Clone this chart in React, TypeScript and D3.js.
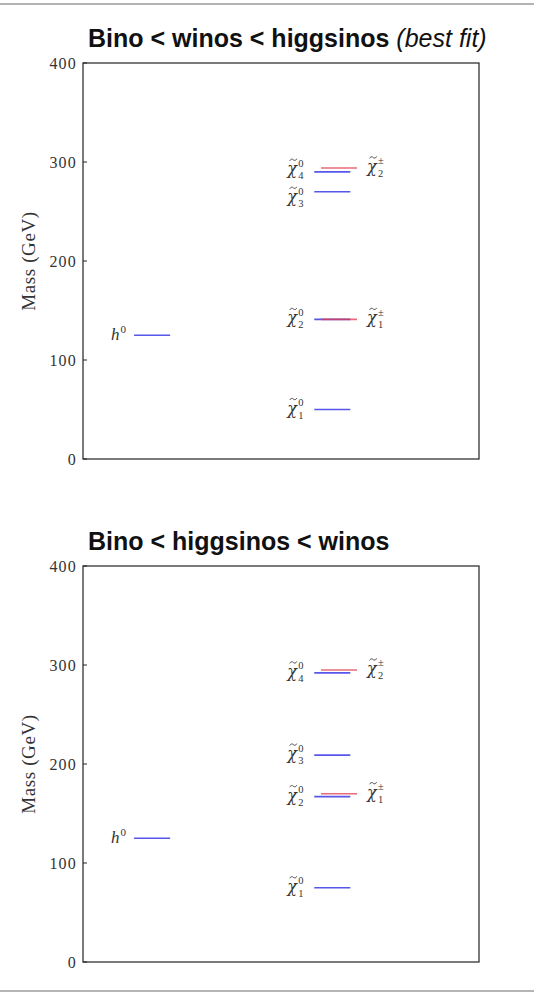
import React from "react";
import * as d3 from "d3";

// Mass spectra for two benchmark orderings (GeV)
const panelTitles = ["Bino < winos < higgsinos", "Bino < higgsinos < winos"];
const panelSubtitles = ["(best fit)", ""];
const higgsMasses = [125, 125];
const neutralinoMasses = [
  [50, 141, 270, 290],
  [75, 167, 209, 292],
];
const charginoMasses = [
  [141, 294],
  [170, 295],
];
const massTicks = [0, 100, 200, 300, 400];
const yLabel = "Mass (GeV)";

const W = 534;
const H = 997;
const BLUE = "#3a3ae8";
const RED = "#e23a4a";
const SERIF = "'Liberation Serif', 'DejaVu Serif', serif";
const SANS = "'Liberation Sans', Arial, sans-serif";
const INK = "#333";

// horizontal layout in fractions of the plot width
const columns = {
  higgs: [0.129, 0.22],
  neutralino: [0.584, 0.675],
  chargino: [0.601, 0.692],
};

function spreadLabels(ys: number[], minGap: number): number[] {
  const order = ys.map((_, i) => i).sort((a, b) => ys[a] - ys[b]);
  const out = ys.slice();
  for (let iter = 0; iter < 20; iter++) {
    for (let k = 1; k < order.length; k++) {
      const a = order[k - 1];
      const b = order[k];
      const gap = out[b] - out[a];
      if (gap < minGap) {
        const push = (minGap - gap) / 2;
        out[a] -= push * 0.4;
        out[b] += push * 1.6;
      }
    }
  }
  return out;
}

// χ̃ with stacked superscript and subscript; x is the right edge (end) or left edge (start)
function ChiLabel({ x, y, sup, sub, anchor }: { x: number; y: number; sup: string; sub: string; anchor: "start" | "end" }) {
  const w = 17;
  const x0 = anchor === "end" ? x - w : x;
  const tx = x0 + 2.5;
  const ty = y - 10.5;
  return (
    <g fill={INK}>
      <path
        d={`M${tx},${ty + 1} C${tx + 1.5},${ty - 1.5} ${tx + 3},${ty - 0.5} ${tx + 3.5},${ty} S${tx + 6},${ty + 1.5} ${tx + 7},${ty - 1}`}
        fill="none"
        stroke={INK}
        strokeWidth={0.9}
      />
      <text x={x0} y={y + 4} fontSize={16} fontStyle="italic" fontFamily="'DejaVu Serif', serif">χ</text>
      <text x={x0 + 11} y={y - 3.5} fontSize={10.5} fontFamily={SERIF}>{sup}</text>
      <text x={x0 + 11} y={y + 9} fontSize={10.5} fontFamily={SERIF}>{sub}</text>
    </g>
  );
}

function Panel({ idx, top }: { idx: number; top: number }) {
  const left = 83;
  const width = 396;
  const height = 396;
  const y = d3.scaleLinear().domain([0, 400]).range([top + height, top]);
  const x = d3.scaleLinear().domain([0, 1]).range([left, left + width]);

  const neu = neutralinoMasses[idx];
  const cha = charginoMasses[idx];
  const neuLabelY = spreadLabels(neu.map((m) => y(m)), 28);
  const chaLabelY = spreadLabels(cha.map((m) => y(m)), 28);

  return (
    <g>
      <text x={88} y={top - 16} fontFamily={SANS} fontSize={25} fill="#111">
        <tspan fontWeight="bold">{panelTitles[idx]}</tspan>
        {panelSubtitles[idx] && <tspan fontStyle="italic">{" " + panelSubtitles[idx]}</tspan>}
      </text>
      <rect x={left} y={top} width={width} height={height} fill="none" stroke="#222" strokeWidth={1.2} />
      {massTicks.map((t) => (
        <g key={t}>
          <line x1={left} x2={left + 4} y1={y(t)} y2={y(t)} stroke="#222" strokeWidth={1} />
          <text x={left - 6} y={y(t) + 5.5} textAnchor="end" fontFamily={SERIF} fontSize={16} letterSpacing={1.2} fill={INK}>
            {t}
          </text>
        </g>
      ))}
      <text
        transform={`translate(${35},${top + height / 2}) rotate(-90)`}
        textAnchor="middle"
        fontFamily={SERIF}
        fontSize={19}
        letterSpacing={0.6}
        fill={INK}
      >
        {yLabel}
      </text>

      {/* Higgs */}
      <line x1={x(columns.higgs[0])} x2={x(columns.higgs[1])} y1={y(higgsMasses[idx])} y2={y(higgsMasses[idx])} stroke={BLUE} strokeWidth={1.6} opacity={0.85} />
      <text x={x(columns.higgs[0]) - 8} y={y(higgsMasses[idx]) + 5} textAnchor="end" fontFamily={SERIF} fontSize={17} fill={INK}>
        <tspan fontStyle="italic">h</tspan>
        <tspan fontSize={11} dy={-7} dx={1}>0</tspan>
      </text>

      {/* Neutralinos */}
      {neu.map((m, i) => (
        <line key={"n" + i} x1={x(columns.neutralino[0])} x2={x(columns.neutralino[1])} y1={y(m)} y2={y(m)} stroke={BLUE} strokeWidth={1.6} opacity={0.85} />
      ))}
      {/* Charginos */}
      {cha.map((m, i) => (
        <line key={"c" + i} x1={x(columns.chargino[0])} x2={x(columns.chargino[1])} y1={y(m)} y2={y(m)} stroke={RED} strokeWidth={1.6} opacity={0.75} />
      ))}
      {neu.map((m, i) => (
        <ChiLabel key={"nl" + i} x={x(columns.neutralino[0]) - 10} y={neuLabelY[i]} sup="0" sub={String(i + 1)} anchor="end" />
      ))}
      {cha.map((m, i) => (
        <ChiLabel key={"cl" + i} x={x(columns.chargino[1]) + 10} y={chaLabelY[i]} sup="±" sub={String(i + 1)} anchor="start" />
      ))}
    </g>
  );
}

export default function App() {
  return (
    <div style={{ position: "absolute", left: 0, top: 0 }}>
      <svg width={W} height={H} viewBox={`0 0 ${W} ${H}`} style={{ display: "block", background: "#fff" }}>
        <rect x={0} y={0} width={W} height={H} fill="#fff" />
        <line x1={0} x2={W} y1={4} y2={4} stroke="#b4b4b4" strokeWidth={2} />
        <line x1={0} x2={W} y1={991} y2={991} stroke="#b4b4b4" strokeWidth={2} />
        <Panel idx={0} top={63} />
        <Panel idx={1} top={566} />
      </svg>
    </div>
  );
}
